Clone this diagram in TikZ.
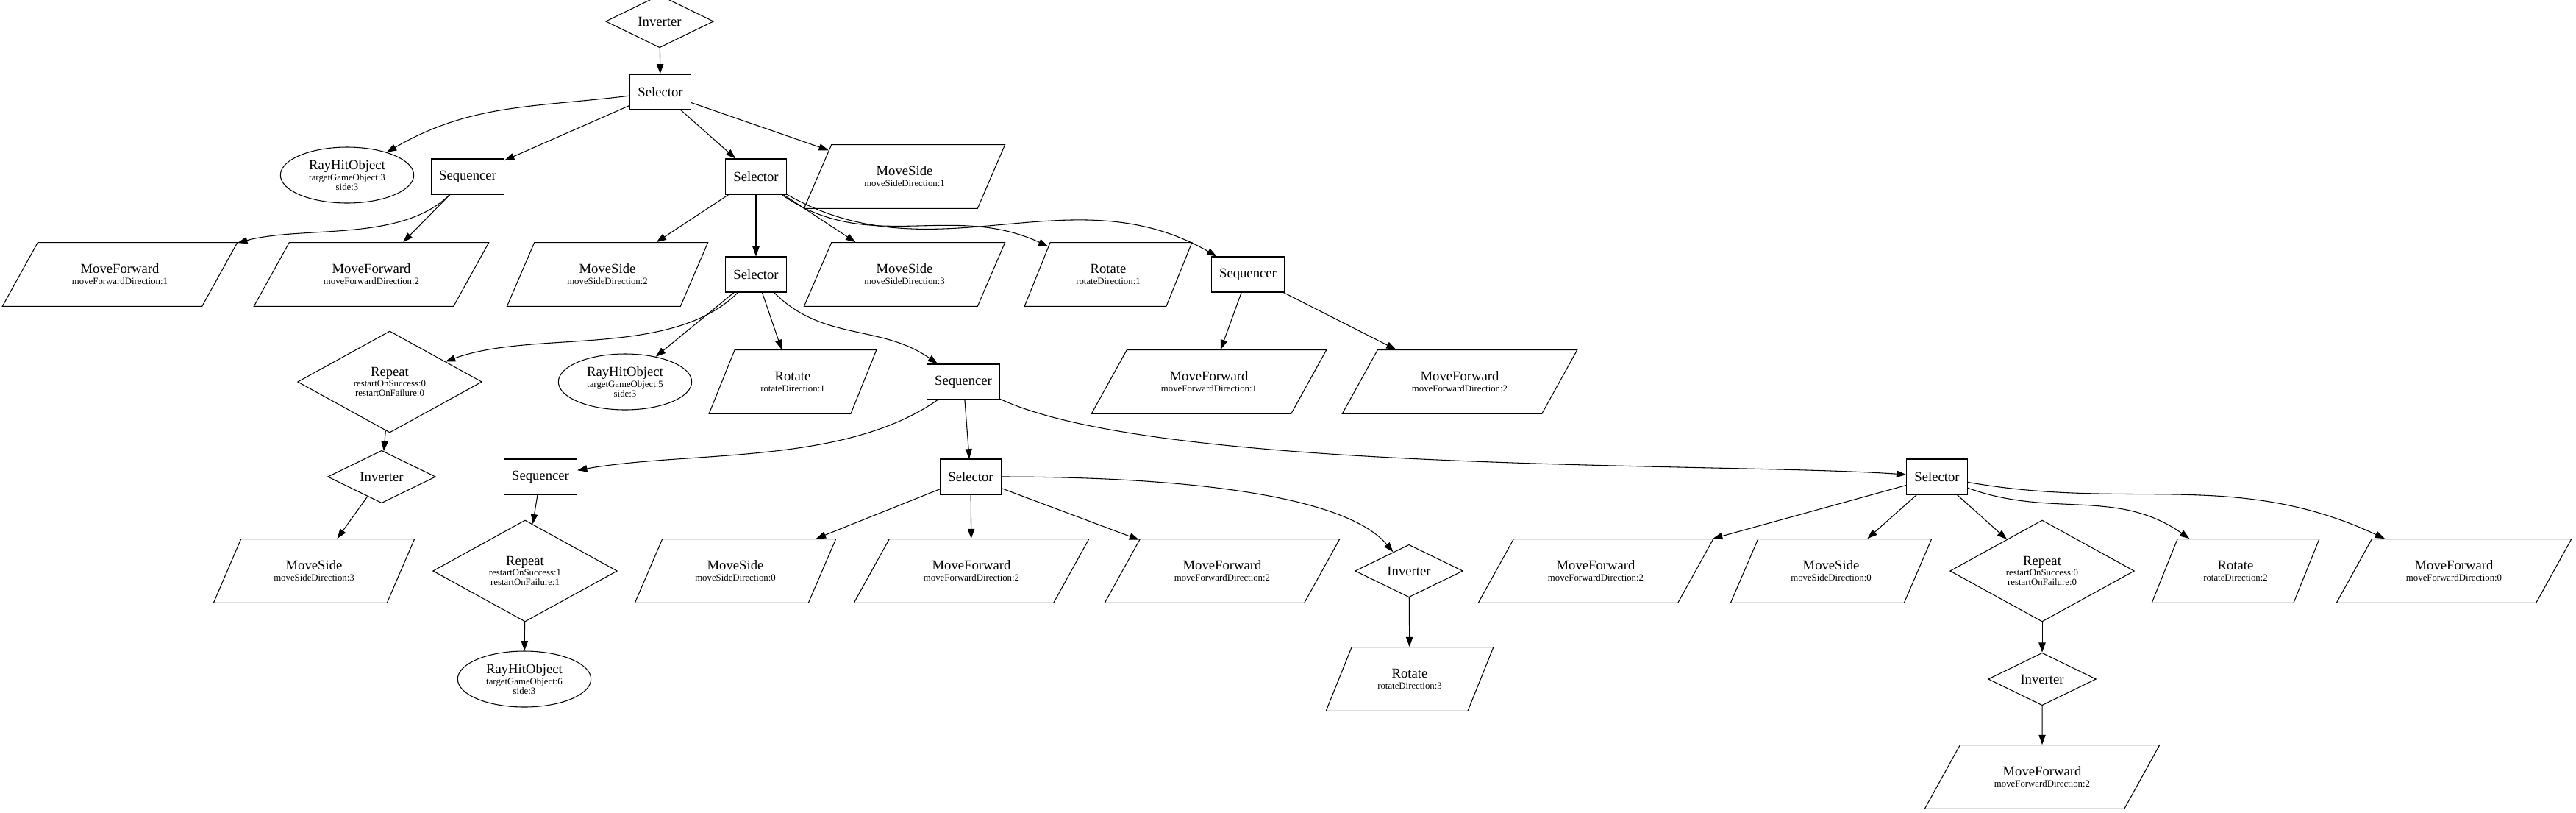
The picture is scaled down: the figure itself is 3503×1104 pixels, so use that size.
\documentclass[tikz,border=0pt]{standalone}
\usepackage{fontspec}
\setmainfont{Liberation Serif}
\usetikzlibrary{arrows.meta,shapes.geometric}

\newcommand{\tname}[1]{{\fontsize{14}{15}\selectfont #1}}

\begin{document}
\begin{tikzpicture}[x=0.75pt, y=-0.75pt,
			comp/.style={rectangle, draw, line width=0.8pt, minimum height=36pt, inner xsep=8pt, font=\fontsize{14}{16}\selectfont},
			deco/.style={diamond, draw, line width=0.8pt, inner sep=0pt, minimum width=110pt, minimum height=36pt, font=\fontsize{14}{16}\selectfont},
			rep/.style={diamond, draw, line width=0.8pt, inner sep=0pt, minimum width=188pt, minimum height=84pt, align=center, font=\fontsize{9.6}{9.8}\selectfont},
			cond/.style={ellipse, draw, line width=0.8pt, inner sep=0pt, minimum width=136pt, minimum height=57pt, align=center, font=\fontsize{9.6}{9.8}\selectfont},
			leaf/.style={trapezium, trapezium stretches=true, draw, line width=0.8pt, inner xsep=0pt, minimum height=65pt, align=center, font=\fontsize{9.6}{9.8}\selectfont},
			mf/.style={leaf, trapezium left angle=53, trapezium right angle=127, minimum width=240pt},
			ms/.style={leaf, trapezium left angle=61, trapezium right angle=119, minimum width=205pt},
			rot/.style={leaf, trapezium left angle=62, trapezium right angle=118, minimum width=172pt},
			link/.style={-{Triangle[length=10pt,width=7pt]}, line width=0.8pt}
			]
			\useasboundingbox (0,0) rectangle (3503,1104);
			
			\node[deco] (inv0) at (897,29) {Inverter};
			\node[comp] (sel0) at (898,125) {Selector};
			
			\node[cond] (ray1) at (472,238) {\tname{RayHitObject}\\[1.5pt]targetGameObject:3\\side:3};
			\node[comp] (seq1) at (636,240) {Sequencer};
			\node[comp] (sel1) at (1028,240) {Selector};
			\node[ms] (ms1) at (1230,240) {\tname{MoveSide}\\[1.5pt]moveSideDirection:1};
			
			\node[mf] (mf1) at (163,373) {\tname{MoveForward}\\[1.5pt]moveForwardDirection:1};
			\node[mf] (mf2) at (505,373) {\tname{MoveForward}\\[1.5pt]moveForwardDirection:2};
			\node[ms] (ms2) at (826,373) {\tname{MoveSide}\\[1.5pt]moveSideDirection:2};
			\node[comp] (sel2) at (1028,373) {Selector};
			\node[ms] (ms3) at (1230,373) {\tname{MoveSide}\\[1.5pt]moveSideDirection:3};
			\node[rot] (rot1) at (1507,373) {\tname{Rotate}\\[1.5pt]rotateDirection:1};
			\node[comp] (seq2) at (1697,373) {Sequencer};
			
			\node[rep] (rep1) at (530,519) {\tname{Repeat}\\[1pt]restartOnSuccess:0\\restartOnFailure:0};
			\node[cond] (ray2) at (850,519) {\tname{RayHitObject}\\[1.5pt]targetGameObject:5\\side:3};
			\node[rot] (rot2) at (1078,519) {\tname{Rotate}\\[1.5pt]rotateDirection:1};
			\node[comp] (seq3) at (1310,519) {Sequencer};
			\node[mf] (mf3) at (1644,519) {\tname{MoveForward}\\[1.5pt]moveForwardDirection:1};
			\node[mf] (mf4) at (1985,519) {\tname{MoveForward}\\[1.5pt]moveForwardDirection:2};
			
			\node[deco] (inv1) at (519,648) {Inverter};
			\node[comp] (seq4) at (735,648) {Sequencer};
			\node[comp] (sel3) at (1320,648) {Selector};
			\node[comp] (sel4) at (2634,648) {Selector};
			
			\node[ms] (ms4) at (427,776) {\tname{MoveSide}\\[1.5pt]moveSideDirection:3};
			\node[rep] (rep2) at (714,776) {\tname{Repeat}\\[1pt]restartOnSuccess:1\\restartOnFailure:1};
			\node[ms] (ms5) at (1000,776) {\tname{MoveSide}\\[1.5pt]moveSideDirection:0};
			\node[mf] (mf5) at (1321,776) {\tname{MoveForward}\\[1.5pt]moveForwardDirection:2};
			\node[mf] (mf6) at (1662,776) {\tname{MoveForward}\\[1.5pt]moveForwardDirection:2};
			\node[deco] (inv2) at (1916,776) {Inverter};
			\node[mf] (mf7) at (2170,776) {\tname{MoveForward}\\[1.5pt]moveForwardDirection:2};
			\node[ms] (ms6) at (2490,776) {\tname{MoveSide}\\[1.5pt]moveSideDirection:0};
			\node[rep] (rep3) at (2777,776) {\tname{Repeat}\\[1pt]restartOnSuccess:0\\restartOnFailure:0};
			\node[rot] (rot3) at (3040,776) {\tname{Rotate}\\[1.5pt]rotateDirection:2};
			\node[mf] (mf8) at (3337,776) {\tname{MoveForward}\\[1.5pt]moveForwardDirection:0};
			
			\node[cond] (ray3) at (713,923) {\tname{RayHitObject}\\[1.5pt]targetGameObject:6\\side:3};
			\node[rot] (rot4) at (1917,923) {\tname{Rotate}\\[1.5pt]rotateDirection:3};
			\node[deco] (inv3) at (2777,923) {Inverter};
			
			\node[mf] (mf9) at (2777,1056) {\tname{MoveForward}\\[1.5pt]moveForwardDirection:2};
			
			\draw[link] (inv0) -- (sel0);
			\draw[link] (sel0) to[out=187, in=30] (ray1);
			\draw[link] (sel0) -- (seq1);
			\draw[link] (sel0) -- (sel1);
			\draw[link] (sel0) -- (ms1);
			
			\draw[link] (seq1) to[out=225, in=15, looseness=0.8] (mf1);
			\draw[link] (seq1) -- (mf2);
			
			\draw[link] (sel1) -- (ms2);
			\draw[link] (sel1) -- (sel2);
			\draw[link] (sel1) -- (ms3);
			\draw[link] (sel1) to[out=-35, in=155] (rot1);
			\draw[link] (sel1) to[out=-30, in=150] (seq2);
			
			\draw[link] (seq2) -- (mf3);
			\draw[link] (seq2) -- (mf4);
			
			\draw[link] (sel2) to[out=225, in=20, looseness=0.8] (rep1);
			\draw[link] (sel2) -- (ray2);
			\draw[link] (sel2) -- (rot2);
			\draw[link] (sel2) to[out=-45, in=145] (seq3);
			
			\draw[link] (rep1) -- (inv1);
			\draw[link] (inv1) -- (ms4);
			
			\draw[link] (seq3) to[out=215, in=10, looseness=0.8] (seq4);
			\draw[link] (seq3) -- (sel3);
			\draw[link] (seq3) to[out=-25, in=176, looseness=0.5] (sel4);
			
			\draw[link] (seq4) -- (rep2);
			\draw[link] (rep2) -- (ray3);
			
			\draw[link] (sel3) -- (ms5);
			\draw[link] (sel3) -- (mf5);
			\draw[link] (sel3) -- (mf6);
			\draw[link] (sel3) to[out=0, in=130, out distance=190pt, in distance=75pt] (inv2);
			\draw[link] (inv2) -- (rot4);
			
			\draw[link] (sel4) -- (mf7);
			\draw[link] (sel4) -- (ms6);
			\draw[link] (sel4) -- (rep3);
			\draw[link] (sel4) to[out=-20, in=145] (rot3);
			\draw[link] (sel4) to[out=-10, in=155] (mf8);
			\draw[link] (rep3) -- (inv3);
			\draw[link] (inv3) -- (mf9);
		\end{tikzpicture}
\end{document}
